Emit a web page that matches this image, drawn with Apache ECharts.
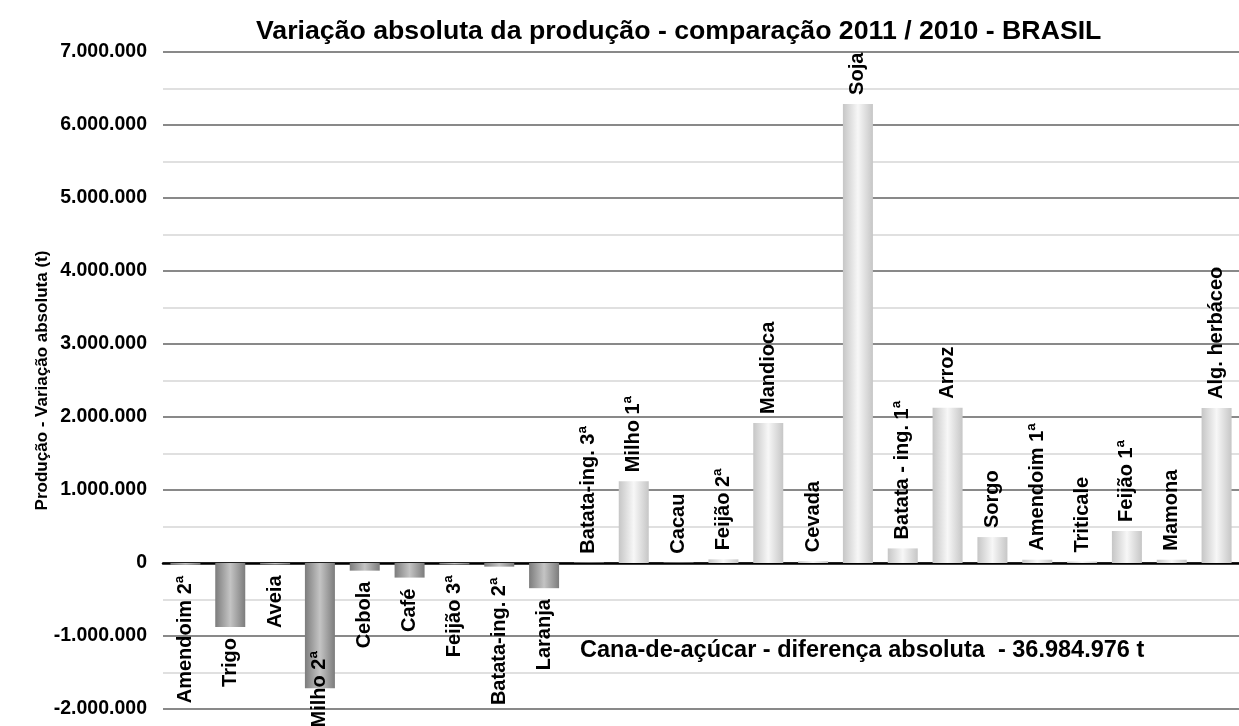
<!DOCTYPE html>
<html>
<head>
<meta charset="utf-8">
<script src="https://cdn.jsdelivr.net/npm/echarts@6/dist/echarts.min.js"></script>
<style>
  html, body { margin: 0; padding: 0; background: #fff; }
  #chart { width: 1239px; height: 726px; }
</style>
</head>
<body>
<div id="chart"></div>
<script>
// categorias (ordem do gráfico)
const categories = [
  'Amendoim 2ª', 'Trigo', 'Aveia', 'Milho 2ª', 'Cebola', 'Café', 'Feijão 3ª',
  'Batata-ing. 2ª', 'Laranja', 'Batata-ing. 3ª', 'Milho 1ª', 'Cacau', 'Feijão 2ª',
  'Mandioca', 'Cevada', 'Soja', 'Batata - ing. 1ª', 'Arroz', 'Sorgo',
  'Amendoim 1ª', 'Triticale', 'Feijão 1ª', 'Mamona', 'Alg. herbáceo'
];
// variação absoluta (t)
const variacao = [
  -25000, -877000, -20000, -1715000, -105000, -200000, -20000,
  -50000, -345000, 5000, 1119000, 5000, 50000,
  1919000, 25000, 6289000, 200000, 2128000, 355000,
  45000, 20000, 440000, 45000, 2124000
];
const yTicks = { min: -2000000, max: 7000000, step: 1000000 };
const canaText = 'Cana-de-açúcar - diferença absoluta  - 36.984.976 t';

// rótulo que o Excel empurrou para dentro da área
const labelShift = { 'Milho 2ª': -37 };

const fmt = (v) => {
  const s = String(Math.abs(v)).replace(/\B(?=(\d{3})+(?!\d))/g, '.');
  return v < 0 ? '-' + s : s;
};

const grad = (edge, mid) => new echarts.graphic.LinearGradient(0, 0, 1, 0, [
  { offset: 0, color: edge },
  { offset: 0.5, color: mid },
  { offset: 1, color: edge }
]);

const seriesData = variacao.map((v, i) => {
  const neg = v < 0;
  const shift = labelShift[categories[i]];
  return {
    value: v,
    itemStyle: { color: neg ? grad('#7c7c7c', '#c4c4c4') : grad('#c6c6c6', '#f7f7f7') },
    label: {
      position: neg ? 'bottom' : 'top',
      align: neg ? 'right' : 'left',
      verticalAlign: 'middle',
      distance: shift !== undefined ? shift : (neg ? 11 : 9)
    }
  };
});

const chart = echarts.init(document.getElementById('chart'));
chart.setOption({
  animation: false,
  textStyle: { fontFamily: 'Liberation Sans, Arial, sans-serif' },
  title: {
    text: 'Variação absoluta da produção - comparação 2011 / 2010 - BRASIL',
    left: 251,
    top: 13,
    textStyle: { fontSize: 26.7, fontWeight: 'bold', color: '#000', fontFamily: 'Liberation Sans' }
  },
  grid: { left: 163, right: -11, top: 52, bottom: 17, containLabel: false },
  xAxis: {
    type: 'category',
    data: categories,
    axisLine: { onZero: true, lineStyle: { color: '#000', width: 2.5 } },
    axisTick: { show: false },
    axisLabel: { show: false },
    splitLine: { show: false }
  },
  yAxis: {
    type: 'value',
    min: yTicks.min,
    max: yTicks.max,
    interval: yTicks.step,
    name: 'Produção - Variação absoluta (t)',
    nameLocation: 'middle',
    nameGap: 112,
    nameMoveOverlap: false,
    nameTextStyle: { fontSize: 17, fontWeight: 'bold', color: '#000', fontFamily: 'Liberation Sans' },
    axisLine: { show: false },
    axisTick: { show: false },
    axisLabel: {
      formatter: fmt,
      fontSize: 19.5,
      fontWeight: 'bold',
      color: '#000',
      margin: 16,
      fontFamily: 'Liberation Sans'
    },
    splitLine: { show: true, lineStyle: { color: '#626262', width: 1.5 } },
    minorTick: { show: false, splitNumber: 2 },
    minorSplitLine: { show: true, lineStyle: { color: '#d6d6d6', width: 1.5 } }
  },
  series: [{
    type: 'bar',
    data: seriesData,
    barWidth: 30,
    label: {
      show: true,
      rotate: 90,
      formatter: (p) => p.name,
      fontSize: 20,
      fontWeight: 'bold',
      color: '#000',
      fontFamily: 'Liberation Sans'
    }
  }],
  graphic: [{
    type: 'text',
    left: 580,
    top: 639,
    style: {
      text: canaText,
      font: 'bold 23.5px "Liberation Sans"',
      fill: '#000'
    }
  }]
});
</script>
</body>
</html>
